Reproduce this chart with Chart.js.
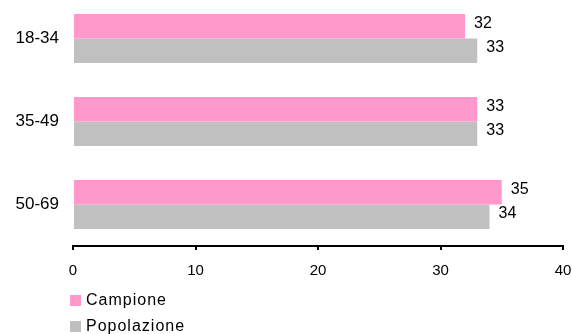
<!DOCTYPE html>
<html>
<head>
<meta charset="utf-8">
<script src="https://cdn.jsdelivr.net/npm/chart.js@4/dist/chart.umd.min.js"></script>
<style>
  html, body { margin: 0; padding: 0; background: #fff; }
  #wrap { position: relative; width: 572px; height: 334px; overflow: hidden; }
  #c { position: absolute; left: 0; top: -3px; }
</style>
</head>
<body>
<div id="wrap"><canvas id="c" width="572" height="337"></canvas></div>
<script>
// Age groups and shares (%) for the sample vs. the population
const categories = ['18-34', '35-49', '50-69'];
const campione = [32, 33, 35];
const popolazione = [33, 33, 34];
const seriesNames = ['Campione', 'Popolazione'];
const xTicks = [0, 10, 20, 30, 40];

const FONT = "'Liberation Sans', Arial, sans-serif";
const PINK = '#FF99CC';
const GRAY = '#C0C0C0';

// Value labels at the end of each bar
const valueLabels = {
  id: 'valueLabels',
  afterDatasetsDraw(chart) {
    const ctx = chart.ctx;
    ctx.save();
    ctx.font = '16px ' + FONT;
    ctx.fillStyle = '#000';
    ctx.textAlign = 'left';
    ctx.textBaseline = 'middle';
    chart.data.datasets.forEach((ds, di) => {
      const meta = chart.getDatasetMeta(di);
      meta.data.forEach((bar, i) => {
        ctx.fillText(String(ds.data[i]), bar.x + 9, bar.y - 3);
      });
    });
    ctx.restore();
  }
};

// Vertical legend in the lower-left corner
const stackedLegend = {
  id: 'stackedLegend',
  afterDraw(chart) {
    const ctx = chart.ctx;
    const area = chart.chartArea;
    ctx.save();
    ctx.font = '16px ' + FONT;
    ctx.textAlign = 'left';
    ctx.textBaseline = 'middle';
    if ('letterSpacing' in ctx) ctx.letterSpacing = '1px';
    chart.data.datasets.forEach((ds, i) => {
      const x = area.left - 3;
      const y = area.bottom + 49 + i * 26;
      ctx.fillStyle = ds.backgroundColor;
      ctx.fillRect(x, y, 11, 11);
      ctx.fillStyle = '#000';
      ctx.fillText(ds.label, x + 16, y + 6);
    });
    ctx.restore();
  }
};

new Chart(document.getElementById('c'), {
  type: 'bar',
  data: {
    labels: categories,
    datasets: [
      { label: seriesNames[0], data: campione, backgroundColor: PINK },
      { label: seriesNames[1], data: popolazione, backgroundColor: GRAY }
    ]
  },
  options: {
    indexAxis: 'y',
    responsive: false,
    animation: false,
    events: [],
    datasets: { bar: { categoryPercentage: 0.59, barPercentage: 1.0 } },
    layout: { padding: { top: 0, right: 9, left: 0, bottom: 0 } },
    plugins: { legend: { display: false }, tooltip: { enabled: false } },
    scales: {
      x: {
        min: 0,
        max: 40,
        afterBuildTicks(scale) { scale.ticks = xTicks.map(v => ({ value: v })); },
        afterFit(scale) {
          scale.height = 88;
          scale.paddingLeft = 0;
          scale.paddingRight = 0;
        },
        border: { display: true, color: '#000', width: 2 },
        grid: { drawOnChartArea: false, drawTicks: true, tickLength: 4, color: '#000', lineWidth: 2 },
        ticks: { color: '#000', font: { family: FONT, size: 15 }, padding: 12, maxRotation: 0 }
      },
      y: {
        afterFit(scale) {
          scale.width = 73;
          scale.paddingTop = 0;
          scale.paddingBottom = 0;
        },
        border: { display: false },
        grid: { display: false, drawTicks: false },
        ticks: { color: '#000', font: { family: FONT, size: 17 }, padding: 14 }
      }
    }
  },
  plugins: [valueLabels, stackedLegend]
});
</script>
</body>
</html>
